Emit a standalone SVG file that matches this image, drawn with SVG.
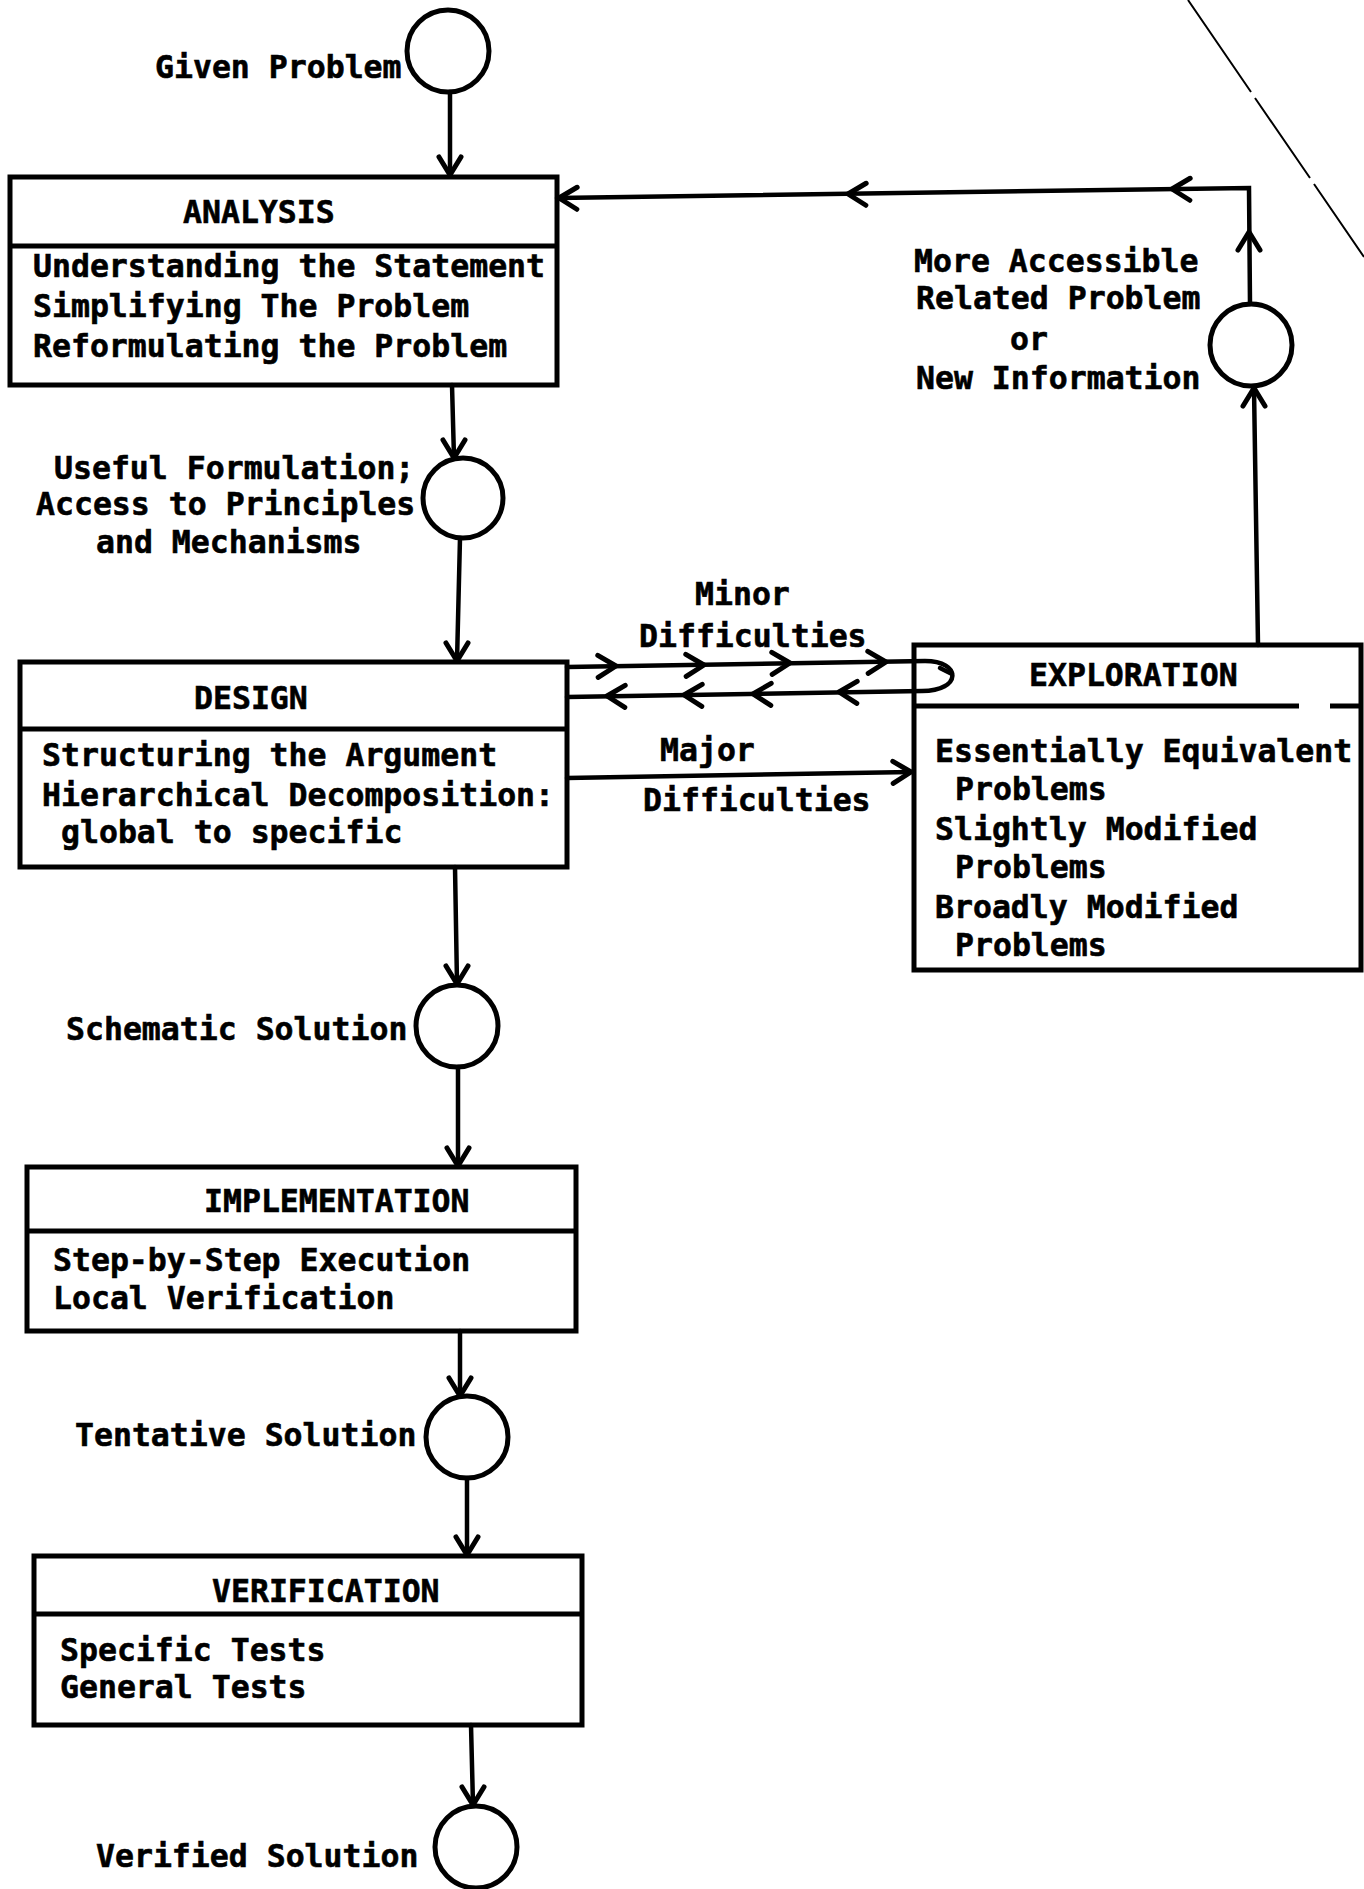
<svg xmlns="http://www.w3.org/2000/svg" xmlns:xlink="http://www.w3.org/1999/xlink" width="1364" height="1889" viewBox="0 0 1364 1889">
<style>
.t{font-family:"DejaVu Sans Mono","Liberation Mono",monospace;font-weight:bold;font-size:31.5px;fill:#000;stroke:#000;stroke-width:0.6}
.box{fill:none;stroke:#000;stroke-width:5}
.div{stroke:#000;stroke-width:5}
.st{fill:none;stroke:#000;stroke-width:5}
.ln{fill:none;stroke:#000;stroke-width:4.5;stroke-linecap:round}
.thin{fill:none;stroke:#000;stroke-width:2}
</style>
<defs>
<path id="chev" d="M-18,-11 L0,0 L-18,11" fill="none" stroke="#000" stroke-width="5" stroke-linecap="round" stroke-linejoin="round"/>
</defs>
<rect width="1364" height="1889" fill="#fff"/>

<g id="scan-line">
<path class="thin" d="M1188,0 L1251,92 M1255,98 L1310,178 M1314,184 L1364,257"/>
</g>

<g id="given-problem">
<circle class="st" cx="448" cy="51" r="41"/>
<text class="t" x="155" y="78">Given Problem</text>
</g>

<g id="analysis">
<rect class="box" x="10" y="177" width="547" height="208"/>
<line class="div" x1="10" y1="246" x2="557" y2="246"/>
<text class="t" x="183" y="223">ANALYSIS</text>
<text class="t" x="33" y="277">Understanding the Statement</text>
<text class="t" x="33" y="317">Simplifying The Problem</text>
<text class="t" x="33" y="357">Reformulating the Problem</text>
</g>

<g id="useful-formulation">
<circle class="st" cx="463" cy="498" r="40"/>
<text class="t" x="54" y="479">Useful Formulation;</text>
<text class="t" x="36" y="515">Access to Principles</text>
<text class="t" x="96" y="553">and Mechanisms</text>
</g>

<g id="design">
<rect class="box" x="20" y="662" width="547" height="205"/>
<line class="div" x1="20" y1="729" x2="567" y2="729"/>
<text class="t" x="194" y="709">DESIGN</text>
<text class="t" x="42" y="766">Structuring the Argument</text>
<text class="t" x="42" y="806">Hierarchical Decomposition:</text>
<text class="t" x="61" y="843">global to specific</text>
</g>

<g id="schematic-solution">
<circle class="st" cx="457" cy="1026" r="41"/>
<text class="t" x="66" y="1040">Schematic Solution</text>
</g>

<g id="implementation">
<rect class="box" x="27" y="1167" width="549" height="164"/>
<line class="div" x1="27" y1="1231" x2="576" y2="1231"/>
<text class="t" x="204" y="1212">IMPLEMENTATION</text>
<text class="t" x="53" y="1271">Step-by-Step Execution</text>
<text class="t" x="53" y="1309">Local Verification</text>
</g>

<g id="tentative-solution">
<circle class="st" cx="467" cy="1437" r="41"/>
<text class="t" x="75" y="1446">Tentative Solution</text>
</g>

<g id="verification">
<rect class="box" x="34" y="1556" width="548" height="169"/>
<line class="div" x1="34" y1="1614" x2="582" y2="1614"/>
<text class="t" x="212" y="1602">VERIFICATION</text>
<text class="t" x="60" y="1661">Specific Tests</text>
<text class="t" x="60" y="1698">General Tests</text>
</g>

<g id="verified-solution">
<circle class="st" cx="476" cy="1847" r="41"/>
<text class="t" x="96" y="1867">Verified Solution</text>
</g>

<g id="exploration">
<path class="box" d="M914,645 L1361,645 L1361,970 L914,970 Z"/>
<path class="div" d="M914,706 L1299,706 M1330,706 L1361,706"/>
<text class="t" x="1029" y="686">EXPLORATION</text>
<text class="t" x="935" y="762">Essentially Equivalent</text>
<text class="t" x="955" y="800">Problems</text>
<text class="t" x="935" y="840">Slightly Modified</text>
<text class="t" x="955" y="878">Problems</text>
<text class="t" x="935" y="918">Broadly Modified</text>
<text class="t" x="955" y="956">Problems</text>
</g>

<g id="more-accessible">
<circle class="st" cx="1251" cy="345" r="41"/>
<text class="t" x="914" y="272">More Accessible</text>
<text class="t" x="916" y="309">Related Problem</text>
<text class="t" x="1010" y="350">or</text>
<text class="t" x="916" y="389">New Information</text>
</g>

<g id="connectors">
<line class="ln" x1="450" y1="92" x2="450" y2="175"/>
<use xlink:href="#chev" transform="translate(450,175) rotate(90)"/>
<line class="ln" x1="452" y1="385" x2="454" y2="458"/>
<use xlink:href="#chev" transform="translate(454,458) rotate(90)"/>
<line class="ln" x1="460" y1="538" x2="457" y2="661"/>
<use xlink:href="#chev" transform="translate(457,661) rotate(90)"/>
<line class="ln" x1="455" y1="867" x2="457" y2="984"/>
<use xlink:href="#chev" transform="translate(457,984) rotate(90)"/>
<line class="ln" x1="458" y1="1067" x2="458" y2="1166"/>
<use xlink:href="#chev" transform="translate(458,1166) rotate(90)"/>
<line class="ln" x1="460" y1="1331" x2="460" y2="1396"/>
<use xlink:href="#chev" transform="translate(460,1396) rotate(90)"/>
<line class="ln" x1="467" y1="1478" x2="467" y2="1555"/>
<use xlink:href="#chev" transform="translate(467,1555) rotate(90)"/>
<line class="ln" x1="471" y1="1725" x2="473" y2="1805"/>
<use xlink:href="#chev" transform="translate(473,1805) rotate(90)"/>

<path class="ln" d="M567,667 L925,661 C962,661 962,691 922,691 L567,697"/>
<use xlink:href="#chev" transform="translate(616,666) rotate(-1)"/>
<use xlink:href="#chev" transform="translate(704,665) rotate(-1)"/>
<use xlink:href="#chev" transform="translate(790,663) rotate(-1)"/>
<use xlink:href="#chev" transform="translate(886,662) rotate(-1)"/>
<use xlink:href="#chev" transform="translate(607,696) rotate(181)"/>
<use xlink:href="#chev" transform="translate(684,695) rotate(181)"/>
<use xlink:href="#chev" transform="translate(753,694) rotate(181)"/>
<use xlink:href="#chev" transform="translate(839,692) rotate(181)"/>
<path class="ln" d="M940,668 L952,674"/>
<text class="t" x="695" y="605">Minor</text>
<text class="t" x="639" y="647">Difficulties</text>

<line class="ln" x1="567" y1="778" x2="911" y2="772"/>
<use xlink:href="#chev" transform="translate(911,772) rotate(-1)"/>
<text class="t" x="660" y="761">Major</text>
<text class="t" x="643" y="811">Difficulties</text>

<line class="ln" x1="1258" y1="645" x2="1254" y2="388"/>
<use xlink:href="#chev" transform="translate(1254,388) rotate(-90)"/>
<path class="ln" d="M1250,304 L1249,188 L557,198"/>
<use xlink:href="#chev" transform="translate(1249,232) rotate(-90)"/>
<use xlink:href="#chev" transform="translate(1172,189) rotate(180.8)"/>
<use xlink:href="#chev" transform="translate(848,194) rotate(180.8)"/>
<use xlink:href="#chev" transform="translate(559,198) rotate(180.8)"/>
</g>
</svg>
